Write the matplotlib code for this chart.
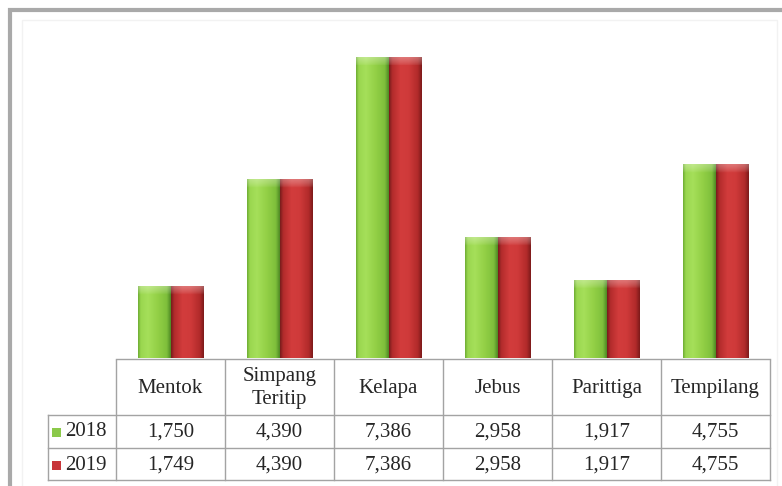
import numpy as np
import matplotlib
matplotlib.use("Agg")
import matplotlib.pyplot as plt
from matplotlib.patches import Rectangle
from matplotlib.transforms import blended_transform_factory
from matplotlib.colors import to_rgb

# ---- data ----
categories = ["Mentok", "Simpang\nTeritip", "Kelapa", "Jebus", "Parittiga", "Tempilang"]
series_names = ["2018", "2019"]
values_2018 = [1750, 4390, 7386, 2958, 1917, 4755]
values_2019 = [1749, 4390, 7386, 2958, 1917, 4755]
labels_2018 = ["1,750", "4,390", "7,386", "2,958", "1,917", "4,755"]
labels_2019 = ["1,749", "4,390", "7,386", "2,958", "1,917", "4,755"]

W, H = 782, 486
fig = plt.figure(figsize=(W / 100, H / 100), dpi=100)
fig.patch.set_facecolor("white")

def fy(p):
    return 1 - p / H

def fx(p):
    return p / W

# outer borders
fig.patches.append(Rectangle((fx(9.5), fy(520)), 1.2, fy(10) - fy(520), transform=fig.transFigure,
                             fill=False, edgecolor="#a9a9a9", linewidth=3, zorder=0))
fig.patches.append(Rectangle((fx(22), fy(520)), fx(777) - fx(22), fy(20) - fy(520), transform=fig.transFigure,
                             fill=False, edgecolor="#f2f2f2", linewidth=1.0, zorder=0))

ax = fig.add_axes([fx(116), fy(358), fx(770) - fx(116), (358 - 33) / H])
ax.set_xlim(-0.5, 5.5)
ax.set_ylim(0, 8000)
ax.axis("off")

x = np.arange(len(categories))
bw = 0.3

def profile(stops, n=64):
    t = np.linspace(0, 1, n)
    pos = [s[0] for s in stops]
    cols = np.array([to_rgb(s[1]) for s in stops])
    return np.stack([np.interp(t, pos, cols[:, k]) for k in range(3)], axis=1)

green_stops = [(0.0, "#6fae34"), (0.08, "#9ad74f"), (0.3, "#a5df5a"), (0.6, "#93d046"),
               (0.88, "#7ebf3b"), (1.0, "#4f8a25")]
red_stops = [(0.0, "#7a1c1c"), (0.1, "#b32c2c"), (0.35, "#d23c3c"), (0.6, "#cf3a3a"),
             (0.88, "#b12a2a"), (1.0, "#7d1a1a")]

px_per_unit = (358 - 33) / 8000.0

def draw_grad_bars(xs, vals, stops):
    bars = ax.bar(xs, vals, width=bw, color="none", edgecolor="none")
    base = profile(stops)
    for b in bars:
        x0, w, h = b.get_x(), b.get_width(), b.get_height()
        nrows = 300
        yy = np.linspace(h, 0, nrows)
        img = np.repeat(base[None, :, :], nrows, axis=0)
        bevel = 8 / px_per_unit
        d = (h - yy) / bevel
        light = np.clip(1 - d, 0, 1) ** 0.7 * 0.3
        img = img + (1 - img) * light[:, None, None]
        ax.imshow(np.clip(img, 0, 1), extent=[x0, x0 + w, 0, h], aspect="auto",
                  interpolation="bilinear", zorder=2)
    return bars

draw_grad_bars(x - bw / 2, values_2018, green_stops)
draw_grad_bars(x + bw / 2, values_2019, red_stops)
ax.set_xlim(-0.5, 5.5)
ax.set_ylim(0, 8000)

# ---- data table ----
tr = blended_transform_factory(ax.transData, fig.transFigure)
line_c = "#a3a3a3"
lab_left = -0.5 - (116 - 48) / ((770 - 116) / 6)
font = dict(family="Liberation Serif", fontsize=15, color="#262626")

for b in np.arange(-0.5, 6.0, 1.0):
    ax.plot([b, b], [fy(360), fy(480)], transform=tr, color=line_c, lw=1, clip_on=False)
ax.plot([lab_left, lab_left], [fy(415), fy(480)], transform=tr, color=line_c, lw=1, clip_on=False)
ax.plot([-0.5, 5.5], [fy(359), fy(359)], transform=tr, color=line_c, lw=1, clip_on=False)
for yy in (415, 448, 480):
    ax.plot([lab_left, 5.5], [fy(yy), fy(yy)], transform=tr, color=line_c, lw=1, clip_on=False)

for i, c in enumerate(categories):
    ax.text(i, fy(388), c, transform=tr, ha="center", va="center", linespacing=1.25, **font)
    ax.text(i, fy(432), labels_2018[i], transform=tr, ha="center", va="center", **font)
    ax.text(i, fy(465), labels_2019[i], transform=tr, ha="center", va="center", **font)

# legend keys in row headers
for name, yc, col in ((series_names[0], 432, "#8bc94a"), (series_names[1], 465, "#c8353a")):
    fig.patches.append(Rectangle((fx(52), fy(yc + 4.5)), fx(9), 9 / H, transform=fig.transFigure,
                                 facecolor=col, edgecolor="none"))
    fig.text(fx(86), fy(yc), name, ha="center", va="center", **font)

fig.savefig("out.png", dpi=100, facecolor="white")
